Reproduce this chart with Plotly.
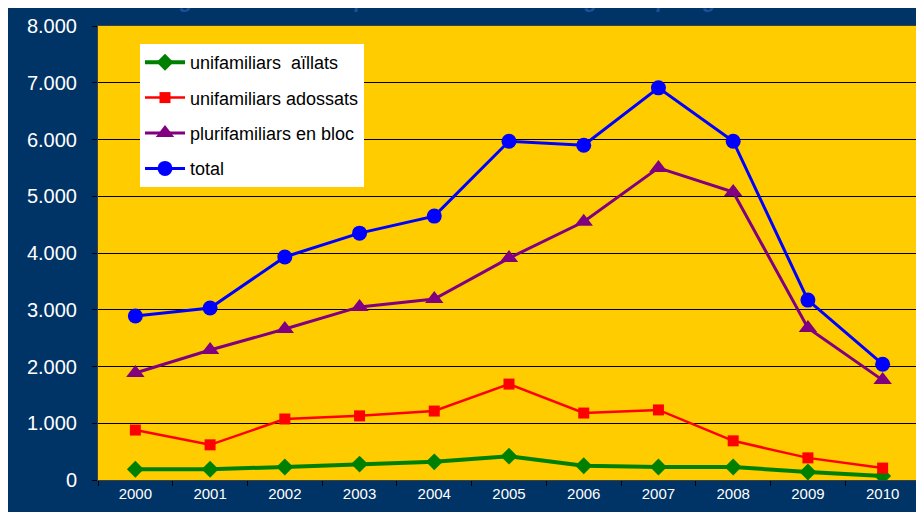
import plotly.graph_objs as go

years = ['2000', '2001', '2002', '2003', '2004', '2005', '2006', '2007', '2008', '2009', '2010']

aillats = [190, 190, 230, 280, 320, 420, 250, 230, 230, 140, 70]
adossats = [880, 620, 1075, 1130, 1215, 1690, 1180, 1235, 690, 390, 210]
bloc = [1885, 2290, 2660, 3050, 3190, 3910, 4550, 5500, 5075, 2680, 1760]
total = [2890, 3030, 3930, 4350, 4650, 5970, 5900, 6910, 5970, 3170, 2040]

y_ticks = [0, 1000, 2000, 3000, 4000, 5000, 6000, 7000, 8000]
y_labels = ['0', '1.000', '2.000', '3.000', '4.000', '5.000', '6.000', '7.000', '8.000']

title_text = 'Evolució del habitatges acabats a la província de Lleida segons tipologia edificatòria'

# the page body adds an 8px margin, so the figure starts at (8, 8)
W, H = 916, 504
L, R, T, B = 90, 4, 18, 32
pw, ph = W - L - R, H - T - B


def px(x):
    return (x - L) / pw


def py(y):
    return (H - B - y) / ph


graph = []

graph.append(go.Scatter(x=years, y=aillats, name='unifamiliars  aïllats', mode='lines+markers',
                        legendgroup='a',
                        line=dict(color='#008000', width=4),
                        marker=dict(symbol='diamond', size=13, color='#008000')))
graph.append(go.Scatter(x=years, y=adossats, name='unifamiliars adossats', mode='lines+markers',
                        legendgroup='b',
                        line=dict(color='#FF0000', width=2.5),
                        marker=dict(symbol='square', size=11, color='#FF0000')))
graph.append(go.Scatter(x=years, y=bloc, name='plurifamiliars en bloc', mode='lines+markers',
                        legendgroup='c',
                        line=dict(color='#800080', width=3),
                        marker=dict(symbol='triangle-up', size=16, color='#800080')))
graph.append(go.Scatter(x=years, y=total, name='total', mode='lines+markers',
                        legendgroup='d',
                        line=dict(color='#0000FF', width=3),
                        marker=dict(symbol='circle', size=15, color='#0000FF')))

layout = dict(
    width=W, height=H,
    margin=dict(l=L, r=R, t=T, b=B),
    paper_bgcolor='#003366',
    plot_bgcolor='#FFCC00',
    font=dict(family='Arial, Liberation Sans, sans-serif', color='white'),
    showlegend=True,
    legend=dict(x=px(132), y=py(36), xanchor='left', yanchor='top',
                bgcolor='white', font=dict(size=18, color='black'),
                itemwidth=40, tracegroupgap=9),
    xaxis=dict(type='category', tickson='boundaries', ticks='outside', ticklen=5,
               tickcolor='black', showgrid=False, showline=True, linecolor='#404040',
               linewidth=1, mirror=True, tickfont=dict(size=15, color='white'),
               range=[-0.5, 10.5]),
    yaxis=dict(range=[0, 8000], tickvals=y_ticks, ticktext=y_labels, ticks='outside',
               ticklen=5, tickcolor='black', showgrid=True, gridcolor='black', gridwidth=1,
               showline=True, linecolor='#404040', linewidth=1, mirror=True, zeroline=False,
               ticklabelstandoff=11, tickfont=dict(size=20, color='white')),
    annotations=[
        dict(text='<b><i>' + title_text + '</i></b>', xref='paper', yref='paper',
             x=px(-38), y=py(-9), xanchor='left', yanchor='middle', showarrow=False,
             font=dict(size=22, color='#1F4E9A'))
    ],
)

fig = go.Figure(data=graph, layout=layout)
fig.write_html('out.html')
